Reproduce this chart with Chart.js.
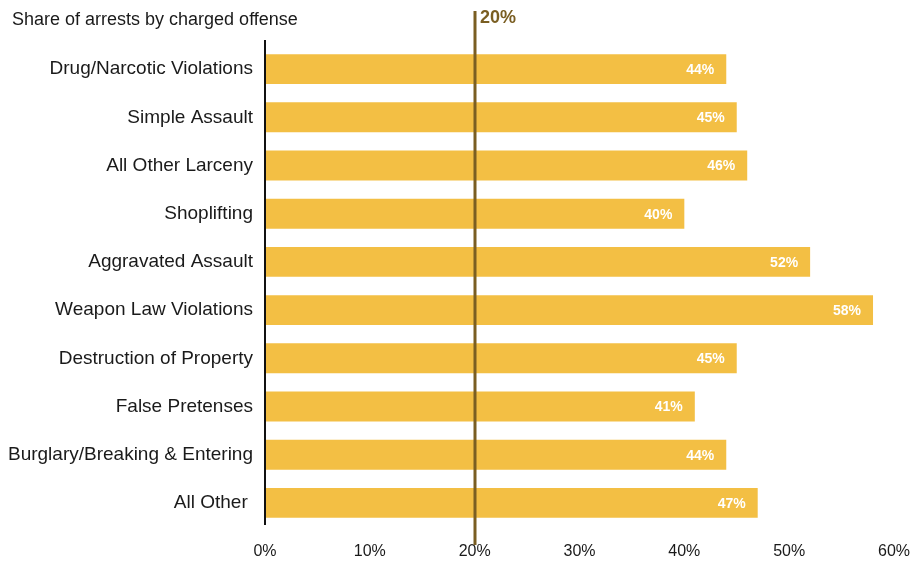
<!DOCTYPE html>
<html>
<head>
<meta charset="utf-8">
<script src="https://cdn.jsdelivr.net/npm/chart.js@4/dist/chart.umd.min.js"></script>
<style>
  html, body { margin: 0; padding: 0; background: #fff; }
  #wrap { position: relative; width: 917px; height: 561px; }
</style>
</head>
<body>
<div id="wrap"><canvas id="c" width="917" height="561"></canvas></div>
<script>
const categories = [
  'Drug/Narcotic Violations',
  'Simple Assault',
  'All Other Larceny',
  'Shoplifting',
  'Aggravated Assault',
  'Weapon Law Violations',
  'Destruction of Property',
  'False Pretenses',
  'Burglary/Breaking & Entering',
  'All Other '
];
const shares = [44, 45, 46, 40, 52, 58, 45, 41, 44, 47];
const xTicks = [0, 10, 20, 30, 40, 50, 60];
const referenceShare = 20;
const titleText = 'Share of arrests by charged offense';

const FONT = '"Liberation Sans", Arial, Helvetica, sans-serif';
const BAR = '#F3BF44';
const REF = '#7A5E22';

// Title, category axis line, 20% reference line and in-bar value labels
const overlay = {
  id: 'overlay',
  afterDatasetsDraw(chart) {
    const ctx = chart.ctx;
    const x = chart.scales.x;
    const area = chart.chartArea;
    const meta = chart.getDatasetMeta(0);

    ctx.save();
    ctx.strokeStyle = '#111';
    ctx.lineWidth = 2;
    ctx.beginPath();
    ctx.moveTo(area.left, area.top - 5);
    ctx.lineTo(area.left, area.bottom - 2);
    ctx.stroke();

    ctx.fillStyle = '#fff';
    ctx.font = 'bold 14px ' + FONT;
    ctx.textAlign = 'right';
    ctx.textBaseline = 'middle';
    meta.data.forEach((bar, i) => {
      ctx.fillText(shares[i] + '%', bar.x - 12, bar.y + 1);
    });

    const rx = Math.round(x.getPixelForValue(referenceShare));
    ctx.strokeStyle = REF;
    ctx.lineWidth = 3;
    ctx.beginPath();
    ctx.moveTo(rx, 11);
    ctx.lineTo(rx, 545);
    ctx.stroke();

    ctx.fillStyle = REF;
    ctx.font = 'bold 18px ' + FONT;
    ctx.textAlign = 'left';
    ctx.textBaseline = 'alphabetic';
    ctx.fillText(referenceShare + '%', rx + 5, 23);

    ctx.fillStyle = '#1a1a1a';
    ctx.font = '18px ' + FONT;
    ctx.fillText(titleText, 12, 25);
    ctx.restore();
  }
};

new Chart(document.getElementById('c'), {
  type: 'bar',
  data: {
    labels: categories,
    datasets: [{
      data: shares,
      backgroundColor: BAR,
      borderWidth: 0,
      categoryPercentage: 0.62,
      barPercentage: 1
    }]
  },
  options: {
    indexAxis: 'y',
    responsive: false,
    animation: false,
    events: [],
    layout: { padding: { top: 45, right: 14, left: 0, bottom: 0 } },
    plugins: { legend: { display: false }, tooltip: { enabled: false } },
    scales: {
      x: {
        min: 0, max: 60,
        afterBuildTicks(scale) { scale.ticks = xTicks.map(v => ({ value: v })); },
        afterFit(scale) { scale.height = 34; },
        grid: { display: false },
        border: { display: false },
        ticks: {
          padding: 7,
          color: '#1a1a1a',
          font: { family: FONT, size: 16 },
          callback: v => v + '%'
        }
      },
      y: {
        afterFit(scale) { scale.width = 265; },
        grid: { display: false, drawTicks: false },
        border: { display: false },
        ticks: {
          padding: 12,
          color: '#1a1a1a',
          font: { family: FONT, size: 19 }
        }
      }
    }
  },
  plugins: [overlay]
});
</script>
</body>
</html>
